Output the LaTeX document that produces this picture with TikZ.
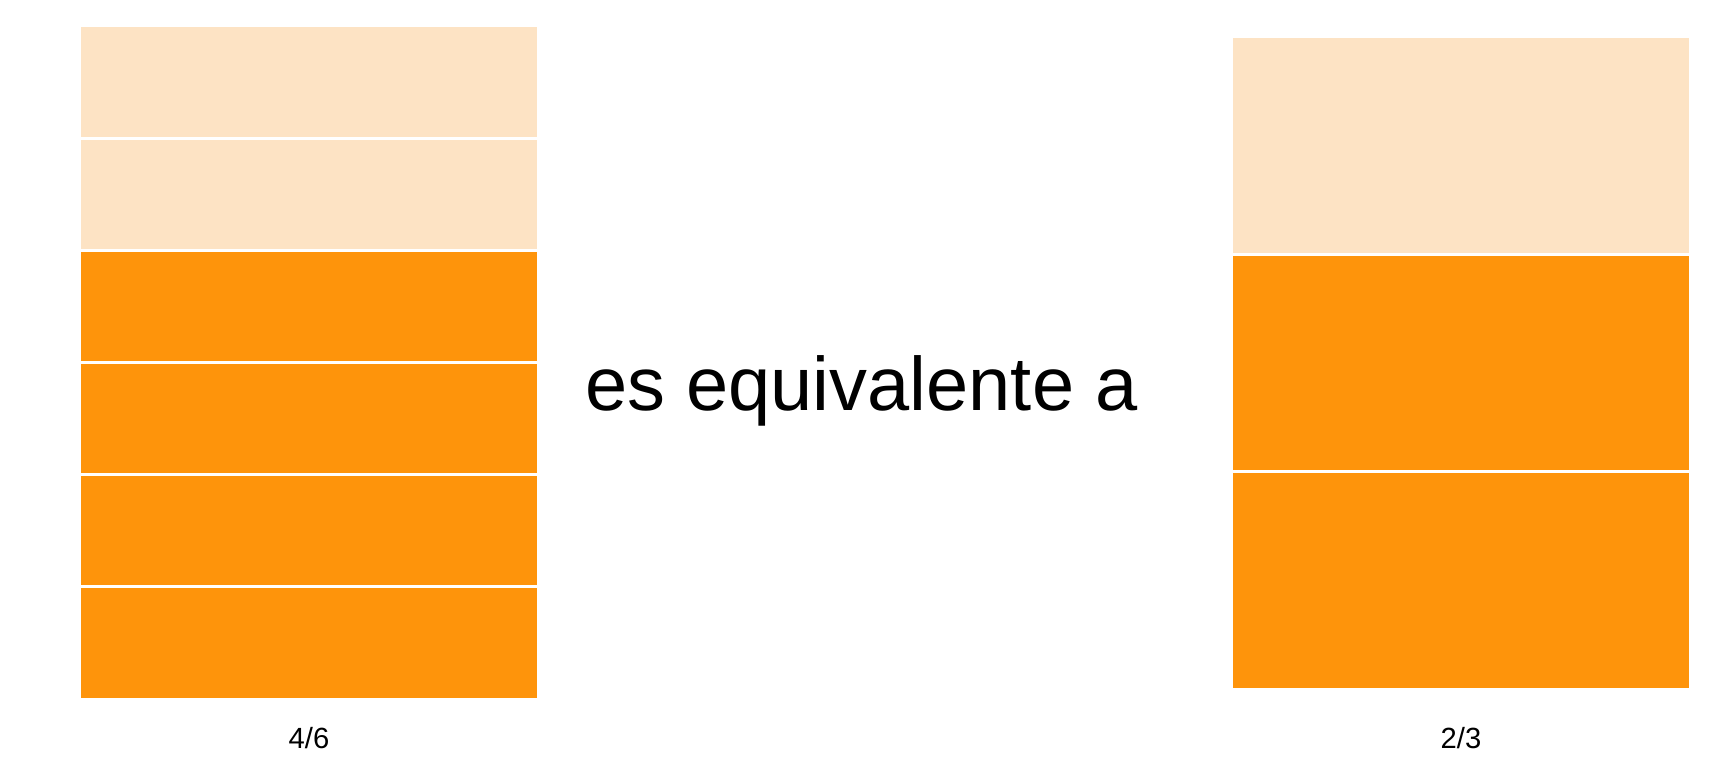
\documentclass[tikz,border=0pt]{standalone}
\usepackage{fontspec}
\setmainfont{Liberation Sans}
\definecolor{lightor}{RGB}{253,227,196}
\definecolor{darkor}{RGB}{254,148,11}
\tikzset{
  sep/.style={white, line width=1.4pt},
  lbl/.style={anchor=base, inner sep=0pt, font=\fontsize{14.6}{17}\selectfont},
  big/.style={anchor=base, inner sep=0pt, font=\fontsize{37.9}{44}\selectfont}
}
\begin{document}
\begin{tikzpicture}[x=0.5pt,y=-0.5pt]
\useasboundingbox (0,0) rectangle (1728,768);
% left bar: 6 parts
\foreach \i in {0,...,5}{
  \ifnum\i<2 \def\c{lightor}\else\def\c{darkor}\fi
  \fill[\c] (81,{27+111.83*\i}) rectangle (537,{27+111.83*(\i+1)});
}
\foreach \i in {1,...,5}{
  \draw[sep] (81,{27+111.83*\i}) -- (537,{27+111.83*\i});
}
% right bar: 3 parts
\fill[lightor] (1233,38) rectangle (1689,254.67);
\fill[darkor] (1233,254.67) rectangle (1689,688);
\draw[sep] (1233,254.67) -- (1689,254.67);
\draw[sep] (1233,471.33) -- (1689,471.33);
% texts
\node[big] (mid) at (861.5,410) {es equivalente a};
\node[lbl] (l1) at (309,748) {4/6};
\node[lbl] (l2) at (1461,748) {2/3};
\end{tikzpicture}
\end{document}
